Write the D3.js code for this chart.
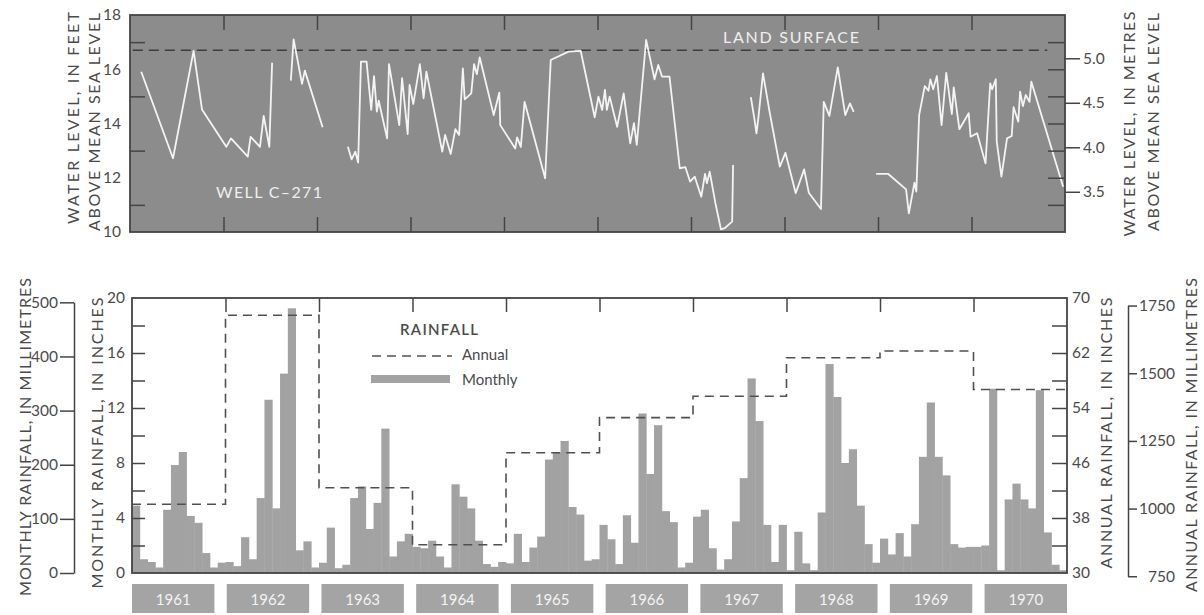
<!DOCTYPE html>
<html lang="en">
<head>
<meta charset="utf-8">
<title>Well C-271 water level and rainfall, 1961-1970</title>
<script src="https://cdn.jsdelivr.net/npm/d3@7"></script>
<style>
    body { margin: 0; background: #fff; }
    text { font-family: Lato, "Open Sans", sans-serif; fill: #4a4a4a; }
    .tick text { font-size: 15.5px; }
    .title { font-size: 16px; }
    .note { font-size: 16px; fill: #efefef; }
    .legend { font-size: 15px; }
    .year { font-size: 15px; fill: #f3f3f3; }
    .tick line, .domain { stroke: #444; stroke-width: 1.5; }
</style>
</head>
<body>
<svg id="chart" width="1204" height="615"></svg>
<script>
// ---- data ----
const years = [1961, 1962, 1963, 1964, 1965, 1966, 1967, 1968, 1969, 1970];

// monthly rainfall, inches (Jan..Dec for each year)
const monthlyRain = [
    4.9, 1.0, 0.8, 0.4, 4.6, 7.85, 8.8, 4.15, 3.65, 1.45, 0.4, 0.75,      // 1961
    0.8, 0.5, 2.6, 1.0, 5.45, 12.6, 4.7, 14.5, 19.25, 1.65, 2.3, 0.4,     // 1962
    0.75, 3.3, 0.35, 0.6, 5.45, 6.3, 3.2, 5.1, 10.5, 1.2, 2.3, 2.85,      // 1963
    1.9, 1.8, 2.35, 1.2, 0.4, 6.45, 5.55, 4.7, 2.35, 0.65, 0.45, 0.8,     // 1964
    0.7, 2.85, 0.8, 1.85, 2.65, 8.25, 8.75, 9.6, 4.8, 4.25, 0.9, 1.0,     // 1965
    3.5, 2.45, 0.65, 4.2, 2.2, 11.6, 7.2, 10.75, 4.5, 3.7, 0.4, 0.75,     // 1966
    4.1, 4.6, 1.8, 0.25, 1.0, 3.75, 6.9, 14.15, 11.05, 3.5, 0.8, 3.5,     // 1967
    0.2, 3.0, 0.7, 0.2, 4.4, 15.2, 12.8, 8.0, 9.0, 4.9, 2.1, 0.75,        // 1968
    2.5, 1.35, 2.9, 1.2, 3.55, 8.45, 12.4, 8.45, 7.1, 2.1, 1.85, 1.9,     // 1969
    1.9, 2.0, 13.4, 0.2, 5.35, 6.5, 5.35, 4.7, 13.3, 2.95, 0.6, 0.2       // 1970
];

// annual rainfall, inches
const annualRain = [40.0, 67.5, 42.4, 34.1, 47.5, 52.6, 55.7, 61.3, 62.3, 56.7];

// water level in well C-271, feet above msl, [decimal year, level]; breaks = missing record
const wellSegments = [
    [[1961.12,15.91],[1961.46,12.72],[1961.68,16.68],[1961.77,14.52],[1962.03,13.14],[1962.08,13.45],
     [1962.26,12.78],[1962.29,13.51],[1962.39,13.14],[1962.43,14.28],[1962.49,13.14],[1962.52,16.24]],
    [[1962.72,15.58],[1962.75,17.10],[1962.84,15.46],[1962.87,15.95],[1963.06,13.86]],
    [[1963.33,13.14],[1963.37,12.68],[1963.41,12.96],[1963.44,12.56],[1963.47,16.28],[1963.53,16.28],
     [1963.58,14.50],[1963.61,15.75],[1963.64,14.44],[1963.66,14.84],[1963.75,13.45],[1963.77,16.19],
     [1963.88,13.94],[1963.91,15.67],[1963.97,13.61],[1963.99,15.42],[1964.03,14.72],[1964.10,16.19],
     [1964.14,14.93],[1964.17,15.91],[1964.34,12.96],[1964.37,13.58],[1964.43,12.88],[1964.48,13.79],
     [1964.52,13.58],[1964.56,16.03],[1964.58,14.89],[1964.65,15.11],[1964.68,16.19],[1964.71,15.82],
     [1964.74,16.44],[1964.89,14.31],[1964.95,15.14],[1964.96,13.94],[1965.12,13.08],[1965.14,13.49],
     [1965.18,13.14],[1965.22,14.80],[1965.44,11.98],[1965.50,16.34],[1965.69,16.65],[1965.82,16.68],
     [1965.97,14.23],[1966.01,14.99],[1966.05,14.50],[1966.08,15.24],[1966.10,14.50],[1966.13,14.99],
     [1966.21,13.88],[1966.28,15.11],[1966.35,13.27],[1966.39,14.01],[1966.42,13.21],[1966.52,17.08],
     [1966.61,15.63],[1966.65,16.16],[1966.69,15.73],[1966.77,15.73],[1966.88,12.35],[1966.94,12.39],
     [1966.99,11.86],[1967.04,12.04],[1967.11,11.30],[1967.15,12.14],[1967.17,11.80],[1967.20,12.22],
     [1967.26,11.08],[1967.32,10.10],[1967.36,10.14],[1967.44,10.38],[1967.45,12.47]],
    [[1967.64,14.97],[1967.68,14.13],[1967.70,13.64],[1967.72,14.19],[1967.77,15.85],[1967.84,14.44],
     [1967.95,12.41],[1968.01,12.92],[1968.12,11.43],[1968.21,12.31],[1968.26,11.45],[1968.39,10.85],
     [1968.42,14.80],[1968.48,14.28],[1968.57,16.07],[1968.65,14.31],[1968.70,14.74],[1968.74,14.43]],
    [[1968.98,12.14],[1969.11,12.14],[1969.30,11.57],[1969.33,10.69],[1969.39,11.82],[1969.41,11.49],
     [1969.44,14.31],[1969.50,15.38],[1969.54,15.21],[1969.56,15.63],[1969.59,15.26],[1969.63,15.75],
     [1969.68,13.94],[1969.73,15.87],[1969.79,14.35],[1969.81,15.33],[1969.87,13.79],[1969.97,14.38],
     [1969.99,13.51],[1970.06,13.64],[1970.15,12.53],[1970.20,15.48],[1970.22,15.26],[1970.26,15.63],
     [1970.27,13.33],[1970.32,12.04],[1970.38,13.45],[1970.43,13.54],[1970.45,14.60],[1970.50,14.07],
     [1970.52,15.17],[1970.55,14.64],[1970.58,15.05],[1970.62,14.80],[1970.64,15.54],[1970.98,11.67]]
];

const landSurface = { level: 16.7, from: 1961.03, to: 1970.81 };

const feetLabels = [10, 12, 14, 16, 18];
const metreLabels = [3.5, 4.0, 4.5, 5.0];
const monthlyInchLabels = [0, 4, 8, 12, 16, 20];
const monthlyMmLabels = [0, 100, 200, 300, 400, 500];
const annualInchLabels = [30, 38, 46, 54, 62, 70];
const annualMmLabels = [750, 1000, 1250, 1500, 1750];

// ---- drawing ----
const svg = d3.select('#chart');
const ink = '#444';

function cleanAxis(g) {
    g.attr('font-size', null).attr('font-family', null);
}
function vtext(x, y, str, len) {
    svg.append('text')
        .attr('class', 'title')
        .attr('transform', `translate(${x},${y}) rotate(-90)`)
        .attr('text-anchor', 'middle')
        .attr('dominant-baseline', 'central')
        .attr('textLength', len)
        .attr('lengthAdjust', 'spacing')
        .text(str);
}

// top panel: water level
const xTop = d3.scaleLinear().domain([1961, 1971]).range([130, 1065]);
const yFt = d3.scaleLinear().domain([10, 18]).range([232, 15]);
const yM = d3.scaleLinear().domain([10 / 3.28084, 18 / 3.28084]).range([232, 15]);

svg.append('rect')
    .attr('x', xTop(1961)).attr('y', yFt(18))
    .attr('width', xTop(1971) - xTop(1961)).attr('height', yFt(10) - yFt(18))
    .attr('fill', '#8c8c8c');

svg.append('line')
    .attr('x1', xTop(landSurface.from)).attr('x2', xTop(landSurface.to))
    .attr('y1', yFt(landSurface.level)).attr('y2', yFt(landSurface.level))
    .attr('stroke', '#3c3c3c').attr('stroke-width', 1.6)
    .attr('stroke-dasharray', '10,6');

const wellLine = d3.line().x(d => xTop(d[0])).y(d => yFt(d[1]));
svg.append('g').selectAll('path')
    .data(wellSegments)
    .join('path')
    .attr('d', wellLine)
    .attr('fill', 'none')
    .attr('stroke', '#f4f4f4')
    .attr('stroke-width', 1.8)
    .attr('stroke-linejoin', 'round');

svg.append('text').attr('class', 'note')
    .attr('x', 723).attr('y', 43).attr('textLength', 136).attr('lengthAdjust', 'spacing')
    .text('LAND SURFACE');
svg.append('text').attr('class', 'note')
    .attr('x', 216).attr('y', 198).attr('textLength', 106).attr('lengthAdjust', 'spacing')
    .text('WELL C\u2013271');

svg.append('g').attr('transform', `translate(0,${yFt(18)})`)
    .call(d3.axisBottom(xTop).tickValues(years.slice(1)).tickSize(15).tickFormat(''))
    .call(g => g.select('.domain').remove());
svg.append('g').attr('transform', `translate(0,${yFt(10)})`)
    .call(d3.axisTop(xTop).tickValues(years.slice(1)).tickSize(15).tickFormat(''))
    .call(g => g.select('.domain').remove());
svg.append('g').attr('transform', `translate(${xTop(1961)},0)`)
    .call(d3.axisRight(yFt).tickValues([11, 13, 15, 17]).tickSize(15).tickFormat(''))
    .call(g => g.select('.domain').remove());
svg.append('g').attr('transform', `translate(${xTop(1971)},0)`)
    .call(d3.axisLeft(yFt).tickValues([11, 12, 13, 14, 15, 16, 17]).tickSize(17).tickFormat(''))
    .call(g => g.select('.domain').remove());
svg.append('g').attr('transform', `translate(${xTop(1961)},0)`)
    .call(d3.axisLeft(yFt).tickValues(feetLabels).tickSize(0).tickPadding(9))
    .call(cleanAxis)
    .call(g => g.select('.domain').remove());
svg.append('g').attr('transform', `translate(${xTop(1971)},0)`)
    .call(d3.axisRight(yM).tickValues(metreLabels).tickSize(15).tickPadding(3).tickFormat(d3.format('.1f')))
    .call(cleanAxis)
    .call(g => g.select('.domain').remove());

svg.append('rect')
    .attr('x', xTop(1961)).attr('y', yFt(18))
    .attr('width', xTop(1971) - xTop(1961)).attr('height', yFt(10) - yFt(18))
    .attr('fill', 'none').attr('stroke', ink).attr('stroke-width', 1.8);

vtext(72, 118, 'WATER LEVEL, IN FEET', 212);
vtext(93, 122, 'ABOVE MEAN SEA LEVEL', 218);
vtext(1128, 124, 'WATER LEVEL, IN METRES', 225);
vtext(1152, 122, 'ABOVE MEAN SEA LEVEL', 218);

// bottom panel: rainfall
const xBot = d3.scaleLinear().domain([1961, 1971]).range([132, 1067]);
const yIn = d3.scaleLinear().domain([0, 20]).range([573, 298]);
const yAnn = d3.scaleLinear().domain([30, 70]).range([573, 298]);
const yMmMonth = d3.scaleLinear().domain([0, 500]).range([yIn(0), yIn(500 / 25.4)]);
const yMmAnn = d3.scaleLinear().domain([750, 1750]).range([yAnn(750 / 25.4), yAnn(1750 / 25.4)]);

svg.append('g').selectAll('rect')
    .data(monthlyRain)
    .join('rect')
    .attr('x', (d, i) => xBot(1961 + i / 12))
    .attr('width', (d, i) => xBot(1961 + (i + 1) / 12) - xBot(1961 + i / 12) + 0.4)
    .attr('y', d => yIn(d))
    .attr('height', d => yIn(0) - yIn(d))
    .attr('fill', '#a2a2a2');

const annualPts = years.map((y, i) => [y, annualRain[i]]);
annualPts.push([1971, annualRain[annualRain.length - 1]]);
svg.append('path')
    .attr('d', d3.line().x(d => xBot(d[0])).y(d => yAnn(d[1])).curve(d3.curveStepAfter)(annualPts))
    .attr('fill', 'none').attr('stroke', '#505050').attr('stroke-width', 1.6)
    .attr('stroke-dasharray', '9,6');

svg.append('rect')
    .attr('x', xBot(1961)).attr('y', yIn(20))
    .attr('width', xBot(1971) - xBot(1961)).attr('height', yIn(0) - yIn(20))
    .attr('fill', 'none').attr('stroke', ink).attr('stroke-width', 1.8);

svg.append('g').attr('transform', `translate(0,${yIn(20)})`)
    .call(d3.axisBottom(xBot).tickValues(years.slice(1)).tickSize(14).tickFormat(''))
    .call(g => g.select('.domain').remove());
svg.append('g').attr('transform', `translate(${xBot(1961)},0)`)
    .call(d3.axisRight(yIn).tickValues(d3.range(2, 20, 2)).tickSize(13).tickFormat(''))
    .call(g => g.select('.domain').remove());
svg.append('g').attr('transform', `translate(${xBot(1961)},0)`)
    .call(d3.axisLeft(yIn).tickValues(monthlyInchLabels).tickSize(0).tickPadding(7))
    .call(cleanAxis)
    .call(g => g.select('.domain').remove());
svg.append('g').attr('transform', `translate(74,0)`)
    .call(d3.axisLeft(yMmMonth).tickValues(monthlyMmLabels).tickSize(14).tickSizeOuter(0).tickPadding(2))
    .call(cleanAxis);
svg.append('g').attr('transform', `translate(${xBot(1971)},0)`)
    .call(d3.axisLeft(yAnn).tickValues(d3.range(34, 70, 4)).tickSize(15).tickFormat(''))
    .call(g => g.select('.domain').remove());
svg.append('g').attr('transform', `translate(${xBot(1971)},0)`)
    .call(d3.axisRight(yAnn).tickValues(annualInchLabels).tickSize(0).tickPadding(5))
    .call(cleanAxis)
    .call(g => g.select('.domain').remove());
svg.append('g').attr('transform', `translate(1128,0)`)
    .call(d3.axisRight(yMmAnn).tickValues(annualMmLabels).tickSize(9).tickSizeOuter(0)
        .tickPadding(3).tickFormat(d3.format('d')))
    .call(cleanAxis)
    .call(g => g.selectAll('text').attr('text-anchor', 'end').attr('x', 47));

vtext(24, 437, 'MONTHLY RAINFALL, IN MILLIMETRES', 318);
vtext(96, 443, 'MONTHLY RAINFALL, IN INCHES', 291);
vtext(1105, 433, 'ANNUAL RAINFALL, IN INCHES', 271);
vtext(1190, 435, 'ANNUAL RAINFALL, IN MILLIMETRES', 314);

// legend
svg.append('text').attr('class', 'legend').attr('x', 400).attr('y', 335)
    .attr('font-size', 16).style('font-weight', 600).attr('textLength', 78).text('RAINFALL');
svg.append('line').attr('x1', 372).attr('x2', 452).attr('y1', 356).attr('y2', 356)
    .attr('stroke', '#505050').attr('stroke-width', 1.6).attr('stroke-dasharray', '9,6');
svg.append('text').attr('class', 'legend').attr('x', 462).attr('y', 354)
    .attr('dominant-baseline', 'central').text('Annual');
svg.append('rect').attr('x', 371).attr('y', 375).attr('width', 79).attr('height', 8)
    .attr('fill', '#a2a2a2');
svg.append('text').attr('class', 'legend').attr('x', 462).attr('y', 379)
    .attr('dominant-baseline', 'central').text('Monthly');

// year boxes
const band = d3.scaleBand().domain(years).range([132, 1067]).paddingInner(0.13);
const yb = svg.append('g').selectAll('g').data(years).join('g');
yb.append('rect')
    .attr('x', d => band(d)).attr('width', band.bandwidth())
    .attr('y', 584).attr('height', 29)
    .attr('fill', '#a4a4a4');
yb.append('text').attr('class', 'year')
    .attr('x', d => band(d) + band.bandwidth() / 2).attr('y', 599)
    .attr('text-anchor', 'middle').attr('dominant-baseline', 'central')
    .text(d => d);
</script>
</body>
</html>
